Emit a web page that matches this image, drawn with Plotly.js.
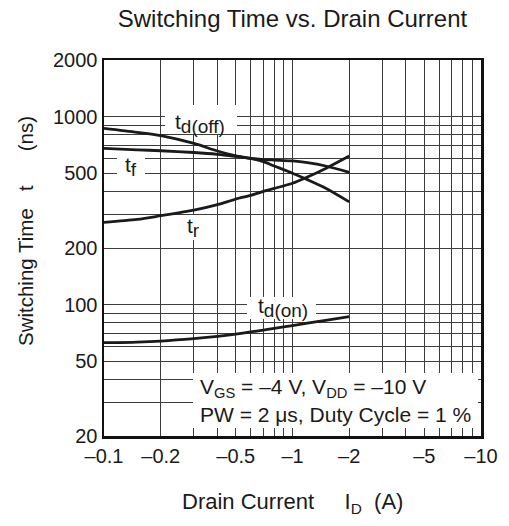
<!DOCTYPE html>
<html>
<head>
<meta charset="utf-8">
<script src="https://cdn.plot.ly/plotly-3.0.1.min.js"></script>
<style>
  html, body { margin: 0; padding: 0; background: #fff; }
  #chart { width: 509px; height: 526px; }
</style>
</head>
<body>
<div id="chart"></div>
<script>
// Drain current I_D (A)
const drainCurrent = [-0.1, -0.15, -0.2, -0.3, -0.4, -0.5, -0.6, -0.7, -0.8, -1.0, -1.2, -1.5, -2.0];
// Switching times (ns)
const tdOff = [866, 825, 792, 720, 656, 619, 600, 576, 546, 500, 462, 416, 352];
const tF    = [678, 666, 658, 644, 630, 614, 600, 591, 587, 581, 569, 546, 505];
const tR    = [274, 284, 297, 318, 340, 364, 381, 400, 415, 442, 477, 530, 617];
const tdOn  = [62.7, 63.2, 64.0, 65.9, 67.7, 69.6, 71.5, 73.2, 74.8, 77.3, 79.6, 82.4, 86.4];

// Axis ticks / grid
const xTickVals = [0.1, 0.2, 0.5, 1, 2, 5, 10];
const xTickText = ['\u20130.1', '\u20130.2', '\u20130.5', '\u20131', '\u20132', '\u20135', '\u201310'];
const xGridVals = [0.3, 0.4, 0.6, 0.7, 0.8, 0.9, 3, 4, 6, 7, 8, 9];
const yTickVals = [20, 50, 100, 200, 500, 1000, 2000];
const yTickText = ['20', '50', '100', '200', '500', '1000', '2000'];
const yGridVals = [30, 40, 60, 70, 80, 90, 300, 400, 600, 700, 800, 900];

const xMag = drainCurrent.map(v => Math.abs(v));
const FONT = 'Liberation Sans, Arial, Helvetica, sans-serif';
const INK = '#1a1a1a';
const GRID = '#3c3c3c';

function curve(y, name) {
  return {
    x: xMag, y: y, name: name, type: 'scatter', mode: 'lines',
    line: { color: INK, width: 2.8, shape: 'spline', smoothing: 0.8 },
    hoverinfo: 'x+y+name'
  };
}

const data = [
  curve(tdOff, 'td(off)'),
  curve(tF, 'tf'),
  curve(tR, 'tr'),
  curve(tdOn, 'td(on)')
];

// white label backgrounds (placed clear of the curves)
function box(x0, x1, y0, y1) {
  return { type: 'rect', xref: 'paper', yref: 'paper', x0: x0, x1: x1, y0: y0, y1: y1,
           fillcolor: '#ffffff', line: { width: 0 }, layer: 'above' };
}

function label(text, x, y, size, xanchor) {
  return { text: text, xref: 'paper', yref: 'paper', x: x, y: y, showarrow: false,
           xanchor: xanchor || 'center', yanchor: 'middle',
           font: { family: FONT, size: size, color: INK } };
}

function axis(range, tickvals, ticktext, gridvals) {
  return {
    type: 'log', range: range,
    tickmode: 'array', tickvals: tickvals, ticktext: ticktext,
    ticks: '', showgrid: true, gridcolor: GRID, gridwidth: 1,
    minor: { tickmode: 'array', tickvals: gridvals, showgrid: true, gridcolor: GRID, gridwidth: 1, ticks: '' },
    showline: true, linecolor: '#111', linewidth: 2.5, mirror: true,
    zeroline: false, tickfont: { family: FONT, size: 20, color: INK }
  };
}

const sub = (s, px) => '<sub><span style="font-size:' + px + 'px">' + s + '</span></sub>';

const layout = {
  width: 509, height: 526,
  margin: { l: 104, r: 28, t: 60, b: 90, pad: 0 },
  paper_bgcolor: '#ffffff', plot_bgcolor: '#ffffff',
  showlegend: false,
  font: { family: FONT, color: INK },
  title: {
    text: 'Switching Time vs. Drain Current',
    font: { family: FONT, size: 24, color: INK },
    xref: 'paper', x: 0.5, xanchor: 'center',
    yref: 'container', y: 1 - 18.5 / 526, yanchor: 'middle'
  },
  xaxis: axis([-1, 1], xTickVals, xTickText, xGridVals),
  yaxis: axis([Math.log10(20), Math.log10(2000)], yTickVals, yTickText, yGridVals),
  shapes: [
    box(0.1618, 0.3528, 0.8032, 0.8803),   // td(off)
    box(0.0345, 0.1088, 0.6809, 0.7500),   // tf
    box(0.1963, 0.2759, 0.5213, 0.5878),   // tr
    box(0.3793, 0.5623, 0.3112, 0.3697),   // td(on)
    box(0.2361, 0.9920, 0.0213, 0.1676)    // conditions
  ],
  annotations: [
    label('t' + sub('d(off)', 19), 0.2546, 0.8298, 21),
    label('t' + sub('f', 19), 0.0716, 0.7162, 21),
    label('t' + sub('r', 19), 0.2387, 0.5545, 21),
    label('t' + sub('d(on)', 19), 0.4748, 0.3418, 21),
    label('V<sub>GS</sub> = \u20134 V, V<sub>DD</sub> = \u201310 V', 0.2493, 0.1277, 21, 'left'),
    label('PW = 2 \u03bcs, Duty Cycle = 1 %', 0.2493, 0.0559, 21, 'left'),
    // axis titles
    { text: 'Drain Current\u00a0\u00a0\u00a0\u00a0\u00a0I<sub>D</sub>\u00a0\u00a0(A)', xref: 'paper', yref: 'paper',
      x: 0.5, y: -0.1770, showarrow: false, xanchor: 'center', yanchor: 'middle',
      font: { family: FONT, size: 22, color: INK } },
    { text: 'Switching Time\u00a0\u00a0\u00a0t\u00a0\u00a0\u00a0\u00a0\u00a0\u00a0(ns)', xref: 'paper', yref: 'paper',
      x: -0.2095, y: 0.5452, showarrow: false, xanchor: 'center', yanchor: 'middle', textangle: -90,
      font: { family: FONT, size: 20.5, color: INK } }
  ]
};

Plotly.newPlot('chart', data, layout, { displayModeBar: false, staticPlot: true });
</script>
</body>
</html>
